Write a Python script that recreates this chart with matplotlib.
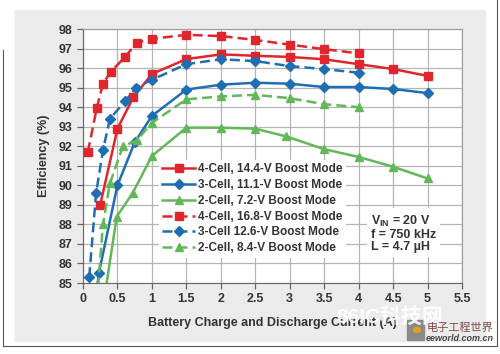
import matplotlib

matplotlib.use("Agg")
import matplotlib.pyplot as plt
from matplotlib.patches import Rectangle, Circle
from matplotlib.lines import Line2D

plt.rcParams["font.family"] = ["Liberation Sans", "Noto Sans CJK SC", "DejaVu Sans"]
plt.rcParams["font.weight"] = "bold"
plt.rcParams["mathtext.fontset"] = "custom"
plt.rcParams["mathtext.bf"] = "Liberation Sans:bold"
plt.rcParams["mathtext.rm"] = "Liberation Sans:bold"
plt.rcParams["mathtext.it"] = "Liberation Sans:bold"

# data
x_4c_144 = [0.25, 0.5, 0.73, 1.0, 1.5, 2.0, 2.5, 3.0, 3.5, 4.0, 4.5, 5.0]
y_4c_144 = [89.0, 92.9, 94.5, 95.7, 96.46, 96.7, 96.63, 96.57, 96.45, 96.2, 95.95, 95.6]

x_3c_111 = [0.2, 0.23, 0.5, 0.75, 1.0, 1.5, 2.0, 2.5, 3.0, 3.5, 4.0, 4.5, 5.0]
y_3c_111 = [84.6, 85.5, 90.0, 92.2, 93.55, 94.9, 95.15, 95.25, 95.2, 95.03, 95.03, 94.93, 94.72]

x_2c_72 = [0.3, 0.49, 0.72, 1.0, 1.5, 2.0, 2.5, 2.95, 3.5, 4.0, 4.5, 5.0]
y_2c_72 = [84.0, 88.4, 89.6, 91.5, 92.95, 92.95, 92.9, 92.5, 91.85, 91.45, 90.95, 90.35]

x_4c_168 = [0.07, 0.2, 0.29, 0.4, 0.61, 0.78, 1.0, 1.5, 2.0, 2.5, 3.0, 3.5, 4.0]
y_4c_168 = [91.7, 93.96, 95.2, 95.8, 96.57, 97.3, 97.5, 97.7, 97.64, 97.44, 97.2, 96.97, 96.75]

x_3c_126 = [0.09, 0.19, 0.29, 0.39, 0.61, 0.77, 1.0, 1.5, 2.0, 2.5, 3.0, 3.5, 4.0]
y_3c_126 = [85.3, 89.6, 91.8, 93.4, 94.3, 95.0, 95.4, 96.2, 96.45, 96.36, 96.1, 95.95, 95.76]

x_2c_84 = [0.2, 0.29, 0.39, 0.58, 0.78, 1.0, 1.5, 2.0, 2.5, 3.0, 3.5, 4.0]
y_2c_84 = [84.0, 88.0, 90.1, 92.0, 92.3, 93.2, 94.4, 94.55, 94.63, 94.46, 94.15, 94.0]

labels = [
    "4-Cell, 14.4-V Boost Mode",
    "3-Cell, 11.1-V Boost Mode",
    "2-Cell, 7.2-V Boost Mode",
    "4-Cell, 16.8-V Boost Mode",
    "3-Cell 12.6-V Boost Mode",
    "2-Cell, 8.4-V Boost Mode",
]
xticks = [0, 0.5, 1, 1.5, 2, 2.5, 3, 3.5, 4, 4.5, 5, 5.5]
xtick_labels = ["0", "0.5", "1", "1.5", "2", "2.5", "3", "3.5", "4", "4.5", "5", "5.5"]

red = "#e0262c"
blue = "#1f6db3"
green = "#62b858"
dash = (0, (4, 2))

fig = plt.figure(figsize=(5, 3.54), dpi=100)
W, H = 500, 354

# gray panel and outer frame
fig.patches.append(Rectangle((15 / W, 1 - 341 / H), 470 / W, 331 / H,
                             transform=fig.transFigure, color="#ebebeb", zorder=-5))
fig.lines.append(Line2D([3 / W, 3 / W, 497 / W, 497 / W],
                        [1 - 50 / H, 1 - 346 / H, 1 - 346 / H, 1 - 0 / H],
                        transform=fig.transFigure, color="#555555", lw=0.8, zorder=-5))

ax = fig.add_axes([83 / W, 1 - 283 / H, 379 / W, 254 / H])
ax.set_facecolor("white")

series = [
    (x_4c_144, y_4c_144, red, "-", "s", 5.5),
    (x_3c_111, y_3c_111, blue, "-", "D", 5.5),
    (x_2c_72, y_2c_72, green, "-", "^", 6),
    (x_4c_168, y_4c_168, red, dash, "s", 5.5),
    (x_3c_126, y_3c_126, blue, dash, "D", 5.5),
    (x_2c_84, y_2c_84, green, dash, "^", 6),
]
handles = []
for (xs, ys, c, ls, m, ms), lab in zip(series, labels):
    h, = ax.plot(xs, ys, color=c, linestyle=ls, marker=m, markersize=ms,
                 lw=1.8, label=lab)
    handles.append(h)

ax.set_xlim(0, 5.5)
ax.set_ylim(85, 98)
ax.set_xticks(xticks)
ax.set_xticklabels(xtick_labels)
ax.set_yticks(range(85, 99))
ax.grid(True, color="#b5b5b5", lw=0.9)
ax.set_axisbelow(True)
for s in ax.spines.values():
    s.set_color("#9a9a9a")
ax.spines["left"].set_color("#666666")
ax.spines["bottom"].set_color("#666666")
ax.tick_params(axis="both", colors="#666666", labelcolor="#333333",
               labelsize=9, length=4, width=0.9)
for t in ax.get_xticklabels() + ax.get_yticklabels():
    t.set_fontweight("bold")

ax.set_ylabel("Efficiency (%)", fontsize=9, color="#333333", labelpad=6,
              fontweight="bold")
ax.set_xlabel("Battery Charge and Discharge Current (A)", fontsize=9,
              color="#333333", labelpad=8, fontweight="bold")

leg = ax.legend(handles=handles, loc="upper left", bbox_to_anchor=(0.2, 0.485),
                fontsize=8.5, frameon=True, fancybox=False, edgecolor="none",
                facecolor="white", framealpha=1, numpoints=1, handlelength=2.8,
                handletextpad=0.2, labelspacing=0.32, borderpad=0.3,
                borderaxespad=0)
for t in leg.get_texts():
    t.set_color("#333333")
    t.set_fontweight("bold")

ax.text(0.76, 0.12, "$\\mathbf{V_{IN}}$ = 20 V\nf = 750 kHz\nL = 4.7 \u00b5H",
        transform=ax.transAxes, fontsize=9, color="#333333", va="bottom",
        ha="left", linespacing=1.0, fontweight="bold",
        bbox=dict(facecolor="white", edgecolor="none", pad=3))

# watermark and logo
fig.text(336 / W, 1 - 323 / H, "86IC科技网", fontsize=15, color="white",
         alpha=0.9, ha="left", va="baseline", fontweight="bold")
fig.patches.append(Rectangle((407 / W, 1 - 340 / H), 17 / W, 20 / H,
                             transform=fig.transFigure, color="#8a8a8a", zorder=3))
fig.patches.append(Circle((417 / W, 1 - 330 / H), 3.5 / W,
                          transform=fig.transFigure, color="#e0a020", zorder=4))
fig.text(460 / W, 1 - 331 / H, "电子工程世界", fontsize=8, color="#7a4a4a",
         ha="center", va="baseline", fontweight="normal")
fig.text(460 / W, 1 - 341 / H, "eeworld.com.cn", fontsize=6.5, color="#444444",
         ha="center", va="baseline", style="italic")

fig.savefig("out.png", dpi=100)
